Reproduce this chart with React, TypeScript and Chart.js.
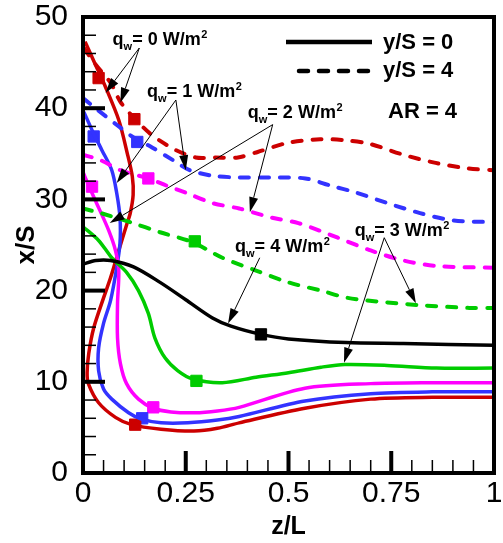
import React, { useEffect, useRef } from "react";
import { Chart, registerables } from "chart.js";

Chart.register(...registerables);

// ---------- axis ticks ----------
const xTicks = [0, 0.25, 0.5, 0.75, 1];
const xTickLabels = ["0", "0.25", "0.5", "0.75", "1"];
const yTicks = [0, 10, 20, 30, 40, 50];
const yTickLabels = ["0", "10", "20", "30", "40", "50"];

// ---------- series: [z/L, x/S] ----------
// y/S = 0 (solid)
const redSolid = [
  [0.005, 47.3], [0.03, 44.8], [0.055, 42.3], [0.087, 38.7], [0.108, 35.0], [0.12, 32.5],
  [0.122, 30.5], [0.115, 28.5], [0.106, 27.2], [0.087, 24.4], [0.067, 21.4], [0.05, 19.2],
  [0.026, 15.9], [0.014, 13.1], [0.01, 11.0], [0.013, 9.8], [0.038, 7.7], [0.079, 6.1],
  [0.118, 5.3], [0.19, 4.8], [0.27, 4.6], [0.327, 4.9], [0.38, 5.5], [0.54, 7.1],
  [0.7, 8.1], [0.85, 8.3], [1.0, 8.3],
];
const blueSolid = [
  [0.002, 39.6], [0.024, 37.4], [0.046, 35.4], [0.07, 33.2], [0.082, 30.7], [0.09, 28.0],
  [0.09, 25.2], [0.082, 22.5], [0.067, 18.9], [0.05, 16.4], [0.038, 13.7], [0.038, 11.2],
  [0.05, 9.2], [0.07, 8.1], [0.111, 6.6], [0.142, 5.9], [0.19, 5.5], [0.255, 5.5],
  [0.327, 5.8], [0.38, 6.2], [0.54, 7.9], [0.7, 8.7], [0.85, 8.9], [1.0, 8.9],
];
const magentaSolid = [
  [0.0, 33.0], [0.014, 31.5], [0.038, 29.1], [0.0625, 26.6], [0.079, 24.4], [0.087, 22.2],
  [0.084, 18.6], [0.084, 14.8], [0.091, 12.0], [0.106, 9.8], [0.135, 8.1], [0.171, 7.1],
  [0.214, 6.7], [0.272, 6.6], [0.327, 6.8], [0.38, 7.2], [0.54, 9.3], [0.7, 9.8],
  [0.85, 9.9], [1.0, 9.9],
];
const greenSolid = [
  [0.0, 27.0], [0.038, 25.5], [0.07, 23.6], [0.106, 22.0], [0.135, 20.0], [0.159, 17.5],
  [0.175, 14.8], [0.2, 12.6], [0.231, 11.2], [0.267, 10.3], [0.339, 9.9], [0.421, 10.5],
  [0.5, 11.0], [0.579, 11.6], [0.637, 11.9], [0.74, 11.8], [0.86, 11.5], [1.0, 11.5],
];
const blackSolid = [
  [0.0, 22.9], [0.031, 23.3], [0.067, 23.3], [0.123, 22.6], [0.1875, 20.9], [0.25, 19.0],
  [0.315, 17.0], [0.36, 16.1], [0.433, 15.2], [0.5, 14.7], [0.64, 14.3], [0.78, 14.2],
  [1.0, 14.0],
];
// y/S = 4 (dashed)
const redDashed = [
  [0.002, 46.6], [0.034, 44.6], [0.067, 42.8], [0.091, 40.7], [0.127, 38.8], [0.161, 37.3],
  [0.185, 36.5], [0.226, 35.4], [0.274, 34.6], [0.322, 34.6], [0.377, 34.6], [0.425, 35.2],
  [0.498, 36.2], [0.577, 36.6], [0.635, 36.5], [0.697, 36.1], [0.779, 34.9], [0.858, 34.0],
  [0.935, 33.4], [1.0, 33.2],
];
const blueDashed = [
  [0.0, 41.1], [0.036, 39.8], [0.084, 38.1], [0.123, 36.8], [0.168, 35.7], [0.219, 34.3],
  [0.26, 33.2], [0.315, 32.6], [0.38, 32.4], [0.459, 32.4], [0.541, 32.3], [0.603, 31.5],
  [0.661, 30.8], [0.74, 29.6], [0.82, 28.5], [0.9, 27.7], [1.0, 27.5],
];
const magentaDashed = [
  [0.0, 34.9], [0.043, 34.3], [0.091, 33.2], [0.159, 32.3], [0.204, 31.5], [0.252, 30.7],
  [0.315, 29.6], [0.38, 29.0], [0.459, 28.0], [0.524, 27.4], [0.62, 25.8], [0.7, 24.4],
  [0.78, 23.3], [0.86, 22.7], [1.0, 22.5],
];
const greenDashed = [
  [0.0, 29.0], [0.043, 28.5], [0.115, 27.5], [0.1875, 26.4], [0.267, 25.3], [0.339, 23.6],
  [0.421, 22.2], [0.5, 20.9], [0.579, 20.0], [0.644, 19.2], [0.74, 18.7], [0.82, 18.4],
  [0.94, 18.1], [1.0, 18.1],
];

// ---------- square markers ----------
const redMarks = [[0.038, 43.3], [0.125, 38.8], [0.127, 5.3]];
const blueMarks = [[0.026, 36.9], [0.132, 36.3], [0.144, 6.0]];
const magentaMarks = [[0.022, 31.4], [0.159, 32.3], [0.171, 7.2]];
const greenMarks = [[0.272, 25.4], [0.276, 10.1]];
const blackMarks = [[0.433, 15.2]];

// ---------- annotations (data coordinates) ----------
const qLabels = ["0", "1", "2", "4", "3"];
const qTextAt = [[0.072, 46.9], [0.156, 41.2], [0.401, 38.9], [0.37, 24.2], [0.661, 26.0]];
const qArrowFrom = [[0.137, 46.6], [0.226, 40.9], [0.4615, 38.2], [0.43, 23.6], [0.733, 25.8]];
const qArrowTips = [
  [[0.055, 41.7], [0.091, 40.6]],
  [[0.082, 31.8], [0.25, 33.2]],
  [[0.406, 28.6], [0.065, 27.4]],
  [[0.353, 16.4]],
  [[0.635, 12.1], [0.81, 18.6]],
];

const FONT = '"Liberation Sans", Arial, Helvetica, sans-serif';
const RED = "#cc0000";
const BLUE = "#3333ff";
const MAGENTA = "#ff00ff";
const GREEN = "#00cc00";
const BLACK = "#000000";

const toPts = (arr: number[][]) => arr.map(([x, y]) => ({ x, y }));

function lineSet(data: number[][], color: string, dashed: boolean) {
  return {
    data: toPts(data),
    showLine: true,
    borderColor: color,
    backgroundColor: color,
    borderWidth: dashed ? 4 : 3.5,
    borderDash: dashed ? [9, 11] : [],
    borderCapStyle: dashed ? "round" : "butt",
    borderJoinStyle: "round",
    pointRadius: 0,
    pointHoverRadius: 0,
    tension: 0.3,
    fill: false,
  };
}
function markSet(data: number[][], color: string) {
  return {
    data: toPts(data),
    showLine: false,
    pointStyle: "rect",
    pointRadius: 8,
    pointHoverRadius: 8,
    pointBorderWidth: 1,
    pointBackgroundColor: color,
    pointBorderColor: color,
  };
}

const framePlugin = {
  id: "frameBox",
  afterDraw(chart: any) {
    const { ctx, chartArea: a, scales } = chart;
    const xs = scales.x;
    const ys = scales.y;
    const L = Math.round(a.left);
    const R = Math.round(a.right);
    const T = Math.round(a.top);
    const B = Math.round(a.bottom);
    ctx.save();
    ctx.fillStyle = "#000000";
    // frame (4px)
    ctx.fillRect(L - 2, T - 2, R - L + 4, 4);
    ctx.fillRect(L - 2, B - 2, R - L + 4, 4);
    ctx.fillRect(L - 2, T - 2, 4, B - T + 4);
    ctx.fillRect(R - 2, T - 2, 4, B - T + 4);
    // minor ticks
    for (let i = 1; i < 20; i++) {
      if (i % 5 === 0) continue;
      const px = xs.getPixelForValue(i * 0.05);
      ctx.fillRect(px - 0.75, B - 13, 1.5, 13);
    }
    for (let v = 2; v < 50; v += 2) {
      if (v % 10 === 0) continue;
      const py = ys.getPixelForValue(v);
      ctx.fillRect(L, py - 0.75, 13, 1.5);
    }
    // major ticks
    xTicks.slice(1, -1).forEach((v) => {
      const px = xs.getPixelForValue(v);
      ctx.fillRect(px - 2, B - 22, 4, 22);
    });
    yTicks.slice(1, -1).forEach((v) => {
      const py = ys.getPixelForValue(v);
      ctx.fillRect(L, py - 2, 22, 4);
    });
    ctx.restore();
  },
};

const decorPlugin = {
  id: "decor",
  afterDraw(chart: any) {
    const { ctx, chartArea: a, scales } = chart;
    const xs = scales.x;
    const ys = scales.y;
    ctx.save();
    ctx.setLineDash([]);
    ctx.strokeStyle = "#000000";
    ctx.fillStyle = "#000000";
    // legend
    ctx.lineCap = "butt";
    ctx.lineWidth = 4.5;
    ctx.beginPath();
    ctx.moveTo(a.right - 208, a.top + 25);
    ctx.lineTo(a.right - 122, a.top + 25);
    ctx.stroke();
    ctx.lineCap = "round";
    ctx.setLineDash([9, 11]);
    ctx.beginPath();
    ctx.moveTo(a.right - 195, a.top + 54);
    ctx.lineTo(a.right - 124, a.top + 54);
    ctx.stroke();
    ctx.setLineDash([]);
    ctx.lineCap = "butt";
    ctx.textAlign = "left";
    ctx.textBaseline = "alphabetic";
    ctx.font = `bold 22px ${FONT}`;
    ctx.fillText("y/S = 0", a.right - 111, a.top + 32);
    ctx.fillText("y/S = 4", a.right - 111, a.top + 60);
    ctx.fillText("AR = 4", a.right - 106, a.top + 101);

    // q_w annotations
    const big = `bold 18px ${FONT}`;
    const small = `bold 11px ${FONT}`;
    qLabels.forEach((q, i) => {
      const tx = xs.getPixelForValue(qTextAt[i][0]);
      const ty = ys.getPixelForValue(qTextAt[i][1]);
      ctx.font = big;
      ctx.fillText("q", tx, ty);
      let cx = tx + ctx.measureText("q").width;
      ctx.font = small;
      ctx.fillText("w", cx, ty + 5);
      cx += ctx.measureText("w").width;
      ctx.font = big;
      const s = "= " + q + " W/m";
      ctx.fillText(s, cx, ty);
      cx += ctx.measureText(s).width;
      ctx.font = small;
      ctx.fillText("2", cx + 0.5, ty - 7);

      const fx = xs.getPixelForValue(qArrowFrom[i][0]);
      const fy = ys.getPixelForValue(qArrowFrom[i][1]);
      qArrowTips[i].forEach(([zx, zy]) => {
        const px = xs.getPixelForValue(zx);
        const py = ys.getPixelForValue(zy);
        const ang = Math.atan2(py - fy, px - fx);
        const HL = 15;
        const W = 4.5;
        const bx = px - HL * Math.cos(ang);
        const by = py - HL * Math.sin(ang);
        ctx.lineWidth = 1;
        ctx.beginPath();
        ctx.moveTo(fx, fy);
        ctx.lineTo(bx, by);
        ctx.stroke();
        ctx.beginPath();
        ctx.moveTo(px, py);
        ctx.lineTo(bx + W * Math.sin(ang), by - W * Math.cos(ang));
        ctx.lineTo(bx - W * Math.sin(ang), by + W * Math.cos(ang));
        ctx.closePath();
        ctx.fill();
      });
    });
    ctx.restore();
  },
};

export default function App() {
  const ref = useRef<HTMLCanvasElement | null>(null);
  useEffect(() => {
    if (!ref.current) return;
    const chart = new Chart(ref.current, {
      type: "scatter",
      data: {
        datasets: [
          lineSet(redDashed, RED, true),
          lineSet(blueDashed, BLUE, true),
          lineSet(magentaDashed, MAGENTA, true),
          lineSet(greenDashed, GREEN, true),
          lineSet(blackSolid, BLACK, false),
          lineSet(greenSolid, GREEN, false),
          lineSet(magentaSolid, MAGENTA, false),
          lineSet(blueSolid, BLUE, false),
          lineSet(redSolid, RED, false),
          markSet(redMarks, RED),
          markSet(blueMarks, BLUE),
          markSet(magentaMarks, MAGENTA),
          markSet(greenMarks, GREEN),
          markSet(blackMarks, BLACK),
        ] as any,
      },
      options: {
        responsive: false,
        animation: false,
        layout: { padding: { top: 17, right: 4, left: 0, bottom: 0 } },
        plugins: { legend: { display: false }, tooltip: { enabled: false }, title: { display: false } },
        scales: {
          x: {
            type: "linear",
            min: 0,
            max: 1,
            grid: { display: false, drawTicks: false },
            border: { display: false },
            afterBuildTicks: (s: any) => {
              s.ticks = xTicks.map((v) => ({ value: v }));
            },
            afterFit: (s: any) => {
              s.height = 70;
              s.paddingLeft = 0;
              s.paddingRight = 0;
            },
            ticks: {
              padding: 3,
              maxRotation: 0,
              autoSkip: false,
              color: "#000",
              font: { family: FONT, size: 30 },
              callback: (_v: any, i: number) => xTickLabels[i],
            },
            title: {
              display: true,
              text: "z/L",
              color: "#000",
              font: { family: FONT, size: 25, weight: "bold" },
              padding: { top: 0, bottom: 1 },
            },
          },
          y: {
            type: "linear",
            min: 0,
            max: 50,
            grid: { display: false, drawTicks: false },
            border: { display: false },
            afterBuildTicks: (s: any) => {
              s.ticks = yTicks.map((v) => ({ value: v }));
            },
            afterFit: (s: any) => {
              s.width = 83;
              s.paddingTop = 0;
              s.paddingBottom = 0;
            },
            ticks: {
              padding: 15,
              autoSkip: false,
              color: "#000",
              font: { family: FONT, size: 30 },
              callback: (_v: any, i: number) => yTickLabels[i],
            },
            title: {
              display: true,
              text: "x/S",
              color: "#000",
              font: { family: FONT, size: 26, weight: "bold" },
              padding: { top: 11, bottom: 0 },
            },
          },
        },
      } as any,
      plugins: [framePlugin, decorPlugin],
    });
    return () => chart.destroy();
  }, []);
  return (
    <div style={{ position: "fixed", left: 0, top: 0, width: 503, height: 543, background: "#fff" }}>
      <canvas ref={ref} width={503} height={543} style={{ width: 503, height: 543 }} />
    </div>
  );
}
